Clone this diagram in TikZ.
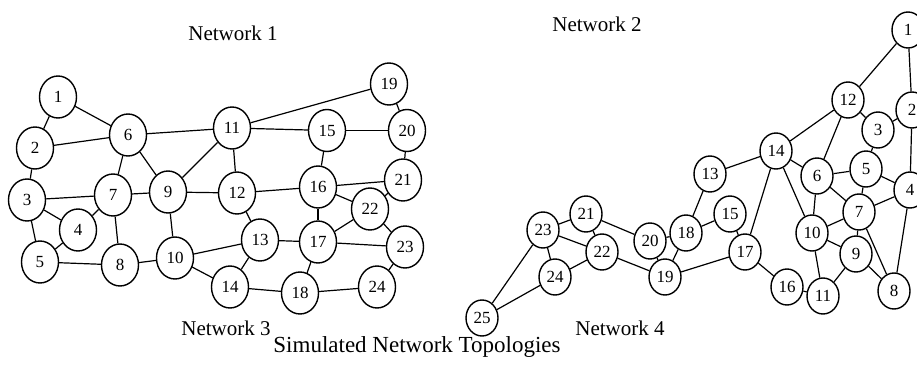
\documentclass[tikz,border=0pt]{standalone}
\usepackage{fontspec}
\setmainfont{Liberation Serif}
\usetikzlibrary{shapes.geometric}

\begin{document}
\begin{tikzpicture}[x=0.5pt, y=-0.5pt,
	nodo/.style={ellipse, draw, line width=0.7pt, inner sep=0pt, fill=white,
		font=\fontsize{8.5}{9}\selectfont},
	redA/.style={nodo, minimum width=18.5pt, minimum height=21pt},
	redB/.style={nodo, minimum width=16pt, minimum height=18pt},
	enlace/.style={line width=0.6pt},
	titulo/.style={font=\fontsize{10.5}{12}\selectfont}]
	\clip (0,0) rectangle (917,369);

	% red de la izquierda
	\foreach \i/\x/\y in {1/58/97, 2/35/148, 3/27/200, 4/78/230, 5/40/262,
	                      6/128/135, 7/113/195, 8/120/265, 9/168/192, 10/175/258,
	                      11/232/128, 12/237/193, 13/260/240, 14/230/287,
	                      15/327/130.5, 16/318/187, 17/318/242, 18/300/293,
	                      19/389/84, 20/407/130.5, 21/403/180, 22/370/209,
	                      23/405/247, 24/377/287}{
		\node[redA] (A\i) at (\x,\y) {\i};
	}
	\foreach \u/\v in {1/2, 1/6, 2/6, 2/3, 3/7, 3/4, 3/5, 4/7, 4/5, 5/8, 7/8,
	                   6/7, 6/9, 6/11, 7/9, 9/11, 9/12, 9/10, 8/10, 10/13,
	                   10/14, 11/12, 11/15, 11/19, 15/20, 19/20, 15/16, 12/16,
	                   12/13, 16/21, 20/21, 16/22, 16/17, 17/22, 21/22, 22/23,
	                   13/17, 17/23, 13/14, 14/18, 17/18, 18/24, 23/24}{
		\draw[enlace] (A\u) -- (A\v);
	}

	% red de la derecha
	\foreach \i/\x/\y in {1/908/30, 2/912/110, 3/878/130, 4/910/190, 5/866/169,
	                      6/817/176, 7/859/212, 8/894/291, 9/856/254, 10/812/233,
	                      11/823/296, 12/848/100, 13/710/174, 14/776/151,
	                      15/730/214, 16/787/287, 17/745/252, 18/686/233,
	                      19/665/277, 20/650/241, 21/586/214, 22/602/252,
	                      23/543/230, 24/555/277, 25/482/318}{
		\node[redB] (B\i) at (\x,\y) {\i};
	}
	\foreach \u/\v in {1/12, 1/2, 12/3, 12/14, 12/6, 2/3, 2/4, 3/5, 5/6, 5/4,
	                   5/7, 6/7, 6/10, 6/14, 14/13, 14/10, 14/17, 4/7, 4/8,
	                   7/10, 7/9, 7/8, 10/9, 10/11, 9/11, 9/8, 16/11, 17/16,
	                   15/17, 18/15, 13/18, 18/20, 18/19, 20/19, 17/19, 21/20,
	                   21/23, 21/22, 23/22, 23/24, 23/25, 24/22, 24/25, 22/19}{
		\draw[enlace] (B\u) -- (B\v);
	}

	\node[titulo] (t1) at (233,33) {Network 1};
	\node[titulo] (t2) at (597,24) {Network 2};
	\node[titulo] (t3) at (226,328) {Network 3};
	\node[titulo] (t4) at (620,328) {Network 4};
	\node[font=\fontsize{11.5}{13}\selectfont] (pie) at (417,347)
		{Simulated Network Topologies};
\end{tikzpicture}
\end{document}
